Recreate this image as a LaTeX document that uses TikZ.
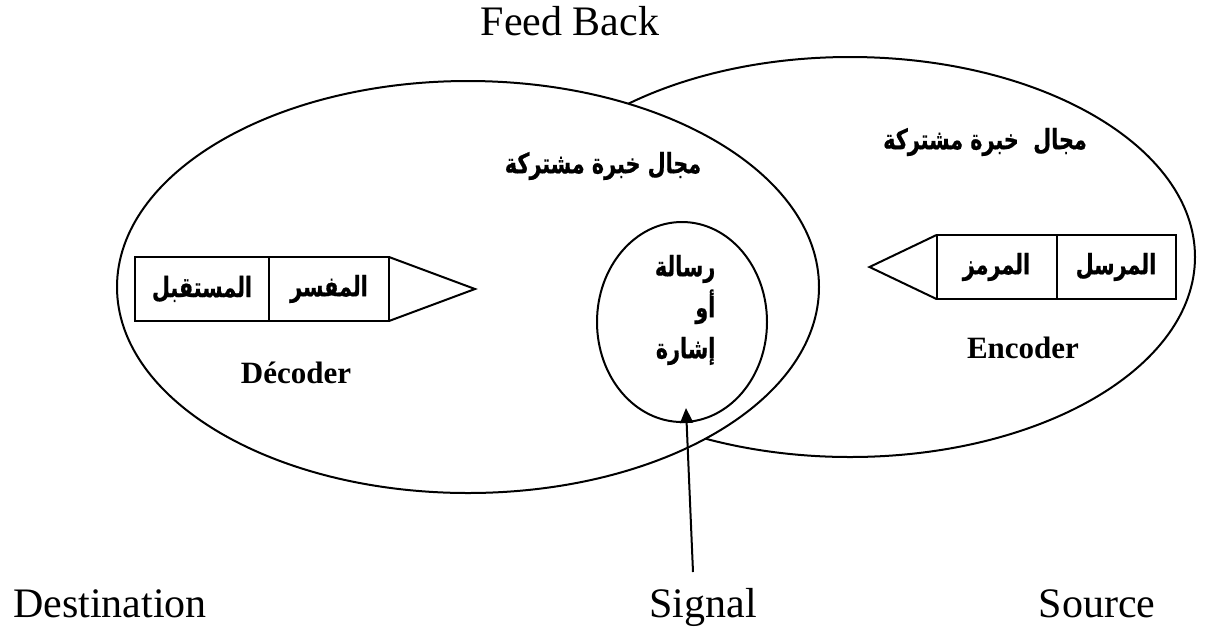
\documentclass[tikz,border=0pt]{standalone}
\usepackage{fontspec}
\setmainfont{Liberation Serif}
\newfontfamily\arabicfont[Script=Arabic,FakeStretch=0.74,BoldFeatures={FakeBold=0.6}]{DejaVu Sans}
\TeXXeTstate=1
\usetikzlibrary{arrows.meta,positioning,shapes.geometric}
\tikzset{
  >={Triangle[length=7.5pt,width=6.5pt]},
  field/.style={ellipse,draw,fill=white,inner sep=0pt},
  cell/.style={rectangle,draw,minimum height=32pt,inner sep=0pt,outer sep=0pt,font=\arabicfont\bfseries\fontsize{14}{16}\selectfont},
  ar/.style={font=\arabicfont\bfseries\fontsize{14}{16}\selectfont},
  lbl/.style={anchor=base,font=\fontsize{21}{25}\selectfont},
  role/.style={font=\bfseries\fontsize{15.5}{18}\selectfont},
  every picture/.style={line width=1pt},
}
\begin{document}
\begin{tikzpicture}[x=0.5pt,y=-0.5pt]
\useasboundingbox (0,0) rectangle (1211,628);
% fields of experience
\node[field,minimum width=345pt,minimum height=200pt] (srcfield) at (850,257){};
\node[field,minimum width=351pt,minimum height=206pt] (dstfield) at (468,287){};
\node[field,minimum width=85pt,minimum height=100pt] (msg) at (682,322){};
\node[ar] (dstexp) at (603,166){\beginR مجال خبرة مشتركة\endR};
\node[ar] (srcexp) at (985,142){\beginR مجال\ \ خبرة مشتركة\endR};
\node[ar,align=right,anchor=east,font=\arabicfont\bfseries\fontsize{14}{20.5}\selectfont] (msgtxt) at (723,310){\beginR رسالة\endR\\\beginR أو\endR\\\beginR إشارة\endR};
% decoder side
\node[cell,minimum width=67pt] (recv) at (202,289){\beginR المستقبل\endR};
\node[cell,minimum width=60pt,right=0pt of recv] (interp){\beginR المفسر\endR};
\draw (interp.north east) -- ([xshift=43pt]interp.east) -- (interp.south east);
\node[role] (declbl) at (296,373){Décoder};
% encoder side
\node[cell,minimum width=59.5pt] (sender) at (1116,267){\beginR المرسل\endR};
\node[cell,minimum width=60pt,left=0pt of sender] (coder){\beginR المرمز\endR};
\draw (coder.north west) -- ([xshift=-33.5pt]coder.west) -- (coder.south west);
\node[role] (enclbl) at (1023,348){Encoder};
% outer labels
\node[lbl] (fb) at (570,35){Feed Back};
\node[lbl] (dest) at (110,617){Destination};
\node[lbl] (sig) at (703,617){Signal};
\node[lbl] (src) at (1097,617){Source};
\coordinate (sigfoot) at (693,572);
\draw[->] (sigfoot) -- ([shift={(4,-15)}]msg.south);
\end{tikzpicture}
\end{document}
